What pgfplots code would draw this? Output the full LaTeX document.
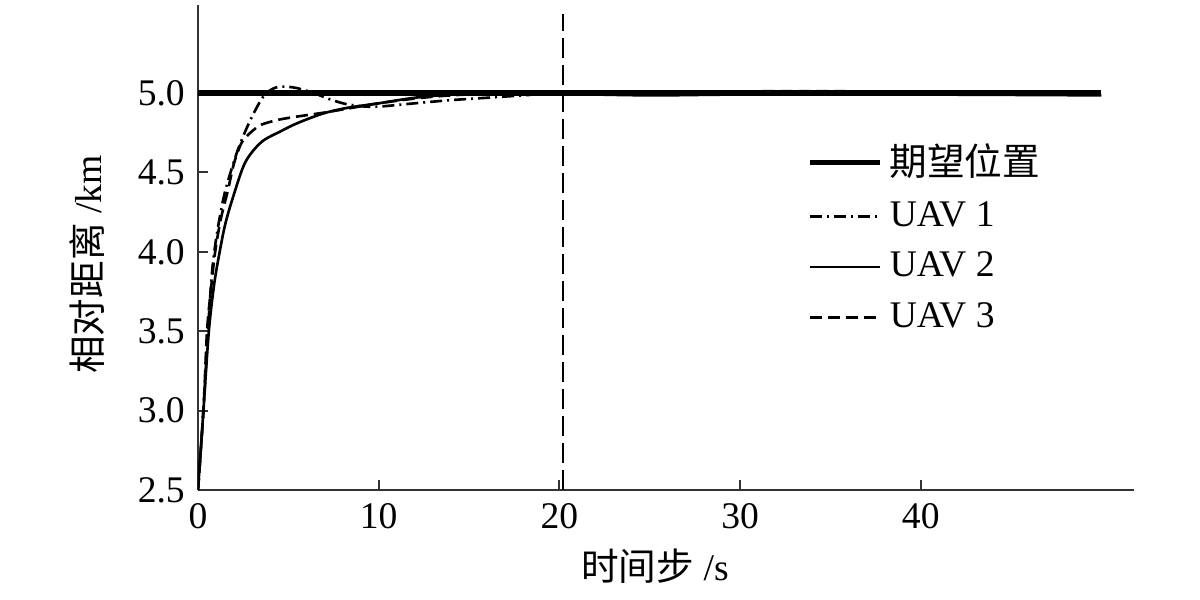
\documentclass[border=0pt]{standalone}
\usepackage{fontspec}
\setmainfont{Liberation Serif}
\newfontfamily\cjk{Noto Sans CJK SC}
\usepackage{pgfplots}
\pgfplotsset{compat=1.18}

\begin{document}
\fontsize{10.7}{12.8}\selectfont
\begin{tikzpicture}
    \path[use as bounding box] (0,0) rectangle (120mm,60mm);
    \begin{axis}[
            at={(19.8mm,11.0mm)}, anchor=south west,
            scale only axis,
            width=93.6mm, height=48.5mm,
            xmin=0, xmax=51.8,
            ymin=2.5, ymax=5.554,
            axis x line=bottom,
            axis y line=left,
            axis line style={-, black!80, line width=0.8pt},
            tick align=inside,
            major tick length=1mm,
            tick style={black!80, line width=0.6pt},
            xtick={0,10,20,30,40},
            ytick={2.5,3.0,3.5,4.0,4.5,5.0},
            yticklabel style={/pgf/number format/.cd, fixed, fixed zerofill, precision=1},
            /pgf/number format/assume math mode=true,
            ticklabel style={font=\fontsize{10.7}{12.8}\selectfont},
            xlabel={{\cjk 时间步} /s},
            ylabel={{\cjk 相对距离} /km},
            label style={font=\fontsize{10.7}{12.8}\selectfont},
            xlabel style={xshift=-1.1mm, yshift=0.5mm},
            ylabel style={xshift=-1.7mm, yshift=0.8mm},
            legend cell align=left,
            legend style={draw=none, fill=none, at={(rel axis cs:0.65,0.73)}, anchor=north west,
                font=\fontsize{10.7}{12.8}\selectfont, row sep=0.6mm,
                inner sep=0pt},
            legend image code/.code={\draw[#1] (0mm,0mm) -- (7mm,0mm);},
        ]
        % desired position
        \addplot[black, line width=1.6pt] coordinates {(0,5.0) (50,5.0)};
        \addlegendentry{{\cjk 期望位置}}
        % UAV 1
        \addplot[black, line width=0.75pt, smooth, dash pattern=on 1.2mm off 0.5mm on 0.2mm off 0.5mm] coordinates {
            (0,2.5) (0.3,3.0) (0.55,3.5) (0.8,3.9) (1.1,4.15) (1.5,4.38) (2.2,4.64)
            (2.9,4.83) (3.6,4.975) (4.2,5.03) (4.8,5.04) (5.5,5.03) (6.4,5.0) (7.3,4.96)
            (8.2,4.93) (9.2,4.915) (10.1,4.915) (12,4.935) (14,4.955) (16,4.97)
            (18,4.985) (20,5.0) (25,5.005) (30,5.005) (40,5.005) (50,5.005)
        };
        \addlegendentry{UAV 1}
        % UAV 2
        \addplot[black, line width=0.75pt, smooth] coordinates {
            (0,2.5) (0.3,3.0) (0.6,3.5) (0.9,3.8) (1.2,4.0) (1.5,4.17) (1.9,4.33)
            (2.6,4.56) (3.5,4.69) (4.6,4.76) (5.5,4.81) (6.9,4.87) (8.2,4.905)
            (10,4.935) (12,4.97) (14,4.99) (16,4.995) (18,5.0) (20,4.995)
            (25,4.985) (30,4.99) (40,4.99) (50,4.985)
        };
        \addlegendentry{UAV 2}
        % UAV 3
        \addplot[black, line width=0.75pt, smooth, dash pattern=on 1.2mm off 0.6mm] coordinates {
            (0,2.5) (0.3,3.0) (0.5,3.5) (0.75,3.8) (0.95,4.0) (1.25,4.2) (1.66,4.39)
            (2.0,4.56) (2.43,4.69) (3.0,4.76) (3.5,4.80) (4.4,4.83) (5.4,4.85)
            (6.9,4.875) (8.2,4.9) (10,4.935) (12,4.965) (14,4.985) (17,5.0)
            (20,5.0) (30,5.01) (40,5.01) (50,5.01)
        };
        \addlegendentry{UAV 3}
        % vertical marker
        \addplot[black, line width=0.75pt, dash pattern=on 2mm off 0.7mm, forget plot] coordinates {(20.2,2.5) (20.2,5.5)};
    \end{axis}
\end{tikzpicture}
\end{document}
